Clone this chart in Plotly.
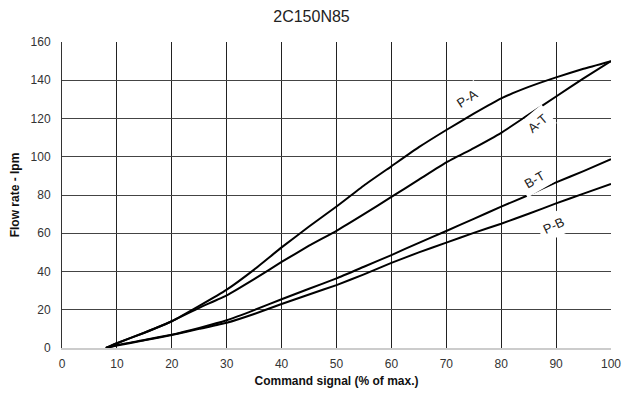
import plotly.graph_objects as go

signal = [8, 10, 15, 20, 25, 30, 35, 40, 45, 50, 55, 60, 65, 70, 75, 80, 85, 90, 95, 100]
flow_pa = [0, 2.5, 8, 14, 22, 30.5, 41, 52.6, 63.5, 74, 85, 95, 105, 114, 122.5, 130.5, 136.5, 141.5, 146, 150]
flow_at = [0, 2.5, 8, 14, 21, 27.5, 36, 45, 53.5, 61.3, 70, 79, 88, 97, 104.5, 112.5, 122, 131.5, 141, 150]
flow_bt = [0, 1.5, 4.2, 7, 10.5, 14.5, 19.8, 25.5, 31, 36.4, 42.5, 48.6, 55, 61.2, 67.5, 73.9, 80, 86.6, 92.5, 98.7]
flow_pb = [0, 1.3, 4, 6.8, 10, 13.2, 17.8, 23, 28, 32.9, 38.5, 44.5, 50, 55.1, 60.2, 65, 70.2, 75.6, 80.7, 85.8]

labels = ["P-A", "A-T", "B-T", "P-B"]
label_x = [73.8, 86.6, 86.1, 89.6]
label_y = [130.6, 117.5, 88.2, 63.8]
label_angle = [-33, -40, -30, -25]

x_ticks = [0, 10, 20, 30, 40, 50, 60, 70, 80, 90, 100]
y_ticks = [0, 20, 40, 60, 80, 100, 120, 140, 160]

fig = go.Figure()
for ys in [flow_pa, flow_at, flow_bt, flow_pb]:
    fig.add_trace(go.Scatter(x=signal, y=ys, mode="lines",
                             line=dict(color="black", width=2, shape="spline", smoothing=0.4),
                             showlegend=False, hoverinfo="skip"))

for t, lx, ly, ang in zip(labels, label_x, label_y, label_angle):
    fig.add_annotation(x=lx, y=ly, text=t, showarrow=False, textangle=ang,
                       font=dict(family="Liberation Sans, Arial, sans-serif", size=13, color="#222"),
                       bgcolor="white", borderpad=4)

fig.update_layout(
    width=623, height=393,
    margin=dict(l=62, r=12, t=42, b=45, autoexpand=False),
    paper_bgcolor="white", plot_bgcolor="white",
    title=dict(text="2C150N85", x=0.5, xanchor="center", y=0.957, yanchor="middle",
               xref="container",
               font=dict(family="Liberation Sans, Arial, sans-serif", size=16, color="#222")),
    font=dict(family="Liberation Sans, Arial, sans-serif", size=12, color="#333"),
)
fig.update_xaxes(range=[0, 100], tickvals=x_ticks, showgrid=True, gridcolor="#222", gridwidth=1,
                 showline=True, linecolor="#ccc", linewidth=1.5, zeroline=False, ticks="",
                 automargin=False, ticklabelstandoff=4, tickfont=dict(size=12, color="#333"),
                 title=dict(text="<b>Command signal (% of max.)</b>", standoff=6,
                            font=dict(size=12, color="#111")))
fig.update_yaxes(range=[0, 160], tickvals=y_ticks, showgrid=True, gridcolor="#444", gridwidth=1,
                 showline=True, linecolor="#333", linewidth=1, zeroline=False, ticks="",
                 automargin=False, ticklabelstandoff=8, tickfont=dict(size=12, color="#333"),
                 title=dict(text="<b>Flow rate - lpm</b>", standoff=8,
                            font=dict(size=12, color="#111")))

fig.write_html("out.html", config={"displayModeBar": False},
               post_script="document.body.style.margin='0';document.body.style.overflow='hidden';")
